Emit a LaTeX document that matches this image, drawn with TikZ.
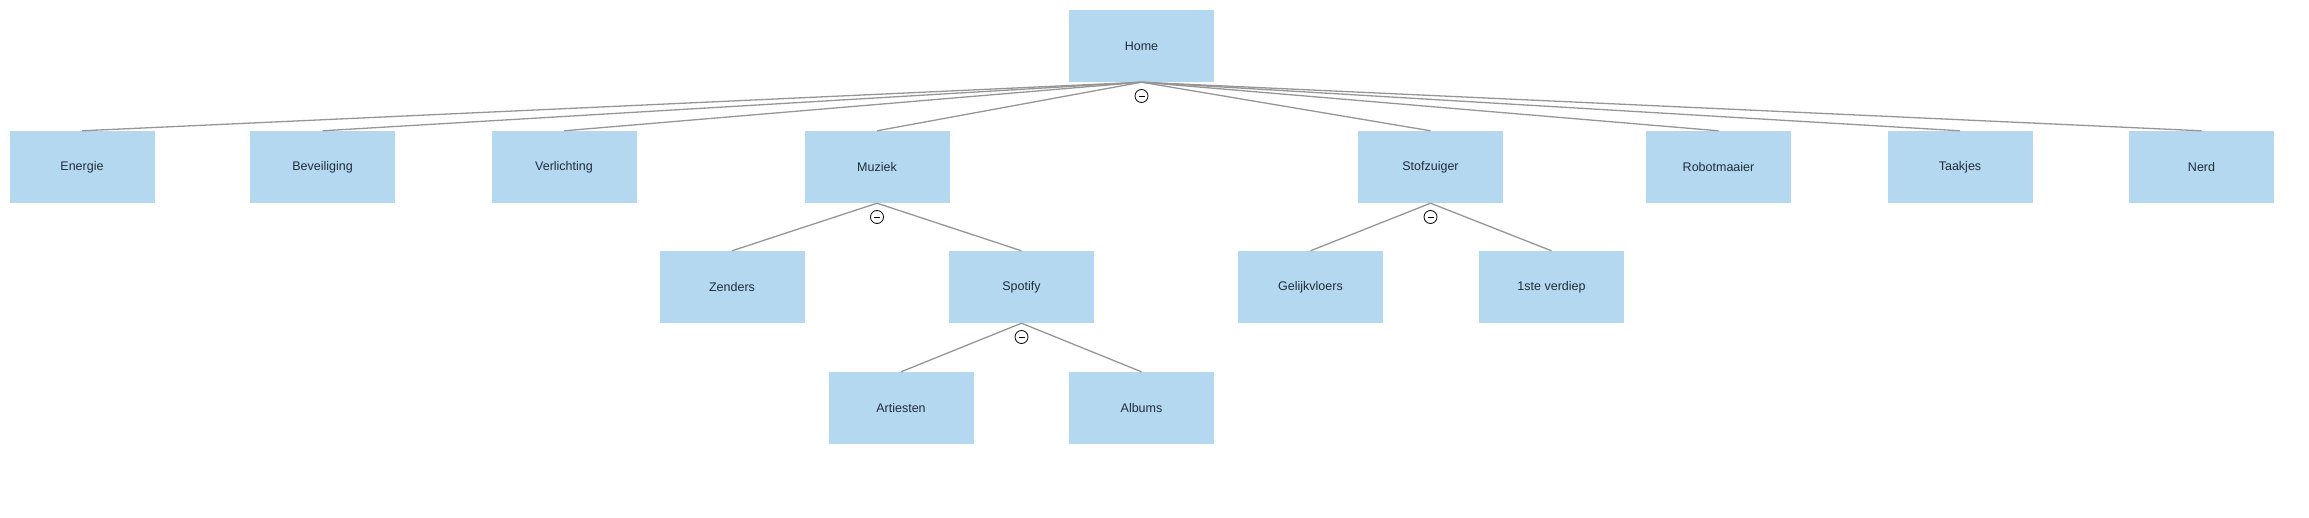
\documentclass[tikz,border=0pt]{standalone}
\usepackage{fontspec}
\setmainfont{Liberation Sans}
\definecolor{blokblauw}{RGB}{180,216,239}
\definecolor{tekstkleur}{RGB}{33,45,60}
\definecolor{lijngrijs}{RGB}{150,150,150}
\begin{document}
\begin{tikzpicture}[x=1pt,y=-1pt,
    blok/.style={fill=blokblauw, minimum width=145pt, minimum height=72pt, inner sep=0pt, text=tekstkleur, font=\fontsize{12.5}{15}\selectfont},
    tak/.style={draw=lijngrijs, line width=1.3pt},
    inklap/.style={circle, draw=black, fill=white, line width=0.8pt, minimum size=13pt, inner sep=0pt,
      path picture={\draw[line width=0.8pt] ([xshift=3.5pt]path picture bounding box.west) -- ([xshift=-3.5pt]path picture bounding box.east);}}]
    \useasboundingbox (0,0) rectangle (2309,518);
    % niveau 0
    \node[blok] (home) at (1141.5,46) {Home};
    % niveau 1
    \node[blok] (energie) at (82,167) {Energie};
    \node[blok] (beveiliging) at (322.5,167) {Beveiliging};
    \node[blok] (verlichting) at (564,167) {Verlichting};
    \node[blok] (muziek) at (877,167) {Muziek};
    \node[blok] (stofzuiger) at (1430.5,167) {Stofzuiger};
    \node[blok] (robotmaaier) at (1718.5,167) {Robotmaaier};
    \node[blok] (taakjes) at (1960,167) {Taakjes};
    \node[blok] (nerd) at (2201.5,167) {Nerd};
    % niveau 2
    \node[blok] (zenders) at (732,287) {Zenders};
    \node[blok] (spotify) at (1021.5,287) {Spotify};
    \node[blok] (gelijkvloers) at (1310.5,287) {Gelijkvloers};
    \node[blok] (verdiep) at (1551.5,287) {1ste verdiep};
    % niveau 3
    \node[blok] (artiesten) at (901,408) {Artiesten};
    \node[blok] (albums) at (1141.5,408) {Albums};
    % takken
    \foreach \kind in {energie,beveiliging,verlichting,muziek,stofzuiger,robotmaaier,taakjes,nerd}
      \draw[tak] (home.south) -- (\kind.north);
    \draw[tak] (muziek.south) -- (zenders.north);
    \draw[tak] (muziek.south) -- (spotify.north);
    \draw[tak] (spotify.south) -- (artiesten.north);
    \draw[tak] (spotify.south) -- (albums.north);
    \draw[tak] (stofzuiger.south) -- (gelijkvloers.north);
    \draw[tak] (stofzuiger.south) -- (verdiep.north);
    % inklapknoppen
    \node[inklap] (homeknop) at (1141.5,96) {};
    \node[inklap] (muziekknop) at (877,217) {};
    \node[inklap] (stofzuigerknop) at (1430.5,217) {};
    \node[inklap] (spotifyknop) at (1021.5,337) {};
  \end{tikzpicture}
\end{document}
